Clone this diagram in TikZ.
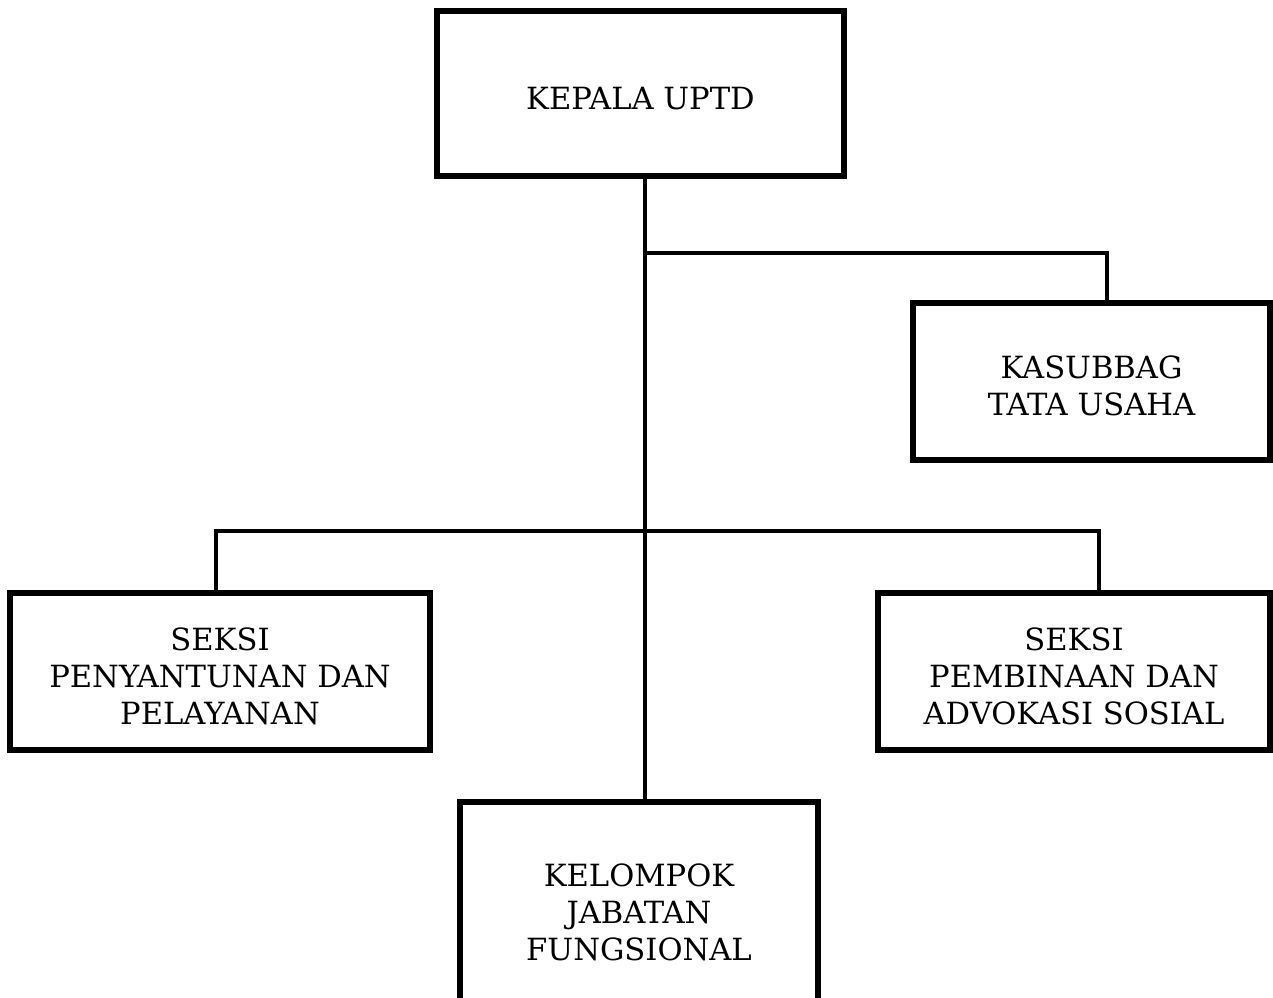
\documentclass[tikz,border=0pt]{standalone}
\usepackage{fontspec}
\setmainfont{DejaVu Serif}
% taller first line pushes each label slightly below its box centre
\newcommand{\droplabel}{\rule{0pt}{16pt}}
\begin{document}
\begin{tikzpicture}[x=0.5pt,y=-0.5pt,
  unit/.style={draw, line width=3pt, align=center, inner sep=0pt,
    font=\fontsize{15.3}{18.5}\selectfont},
  link/.style={line width=2pt}]
\useasboundingbox (0,0) rectangle (1273,997);
\clip (0,0) rectangle (1273,997);
\fill[white] (0,0) rectangle (1273,997);

% units
\node[unit, minimum width=203.5pt, minimum height=82.5pt] (kepala) at (640.5,93.5) {\droplabel KEPALA UPTD};
\node[unit, minimum width=178.5pt, minimum height=78.5pt] (tu) at (1091.5,381.5) {\droplabel KASUBBAG\\TATA USAHA};
\node[unit, minimum width=210pt, minimum height=78.5pt] (pelayanan) at (220,671.5) {\droplabel SEKSI\\PENYANTUNAN DAN\\PELAYANAN};
\node[unit, minimum width=196pt, minimum height=78.5pt] (advokasi) at (1074,671.5) {\droplabel SEKSI\\PEMBINAAN DAN\\ADVOKASI SOSIAL};
\node[unit, minimum width=179pt, minimum height=110pt] (fungsional) at (639,912) {KELOMPOK\\JABATAN\\FUNGSIONAL};

% junctions on the trunk and branch corners
\coordinate (j1) at (645,253);
\coordinate (j2) at (645,531);
\coordinate (c1) at (1107,253);
\coordinate (c2) at (216,531);
\coordinate (c3) at (1099,531);

% connectors
\draw[link] (kepala.south -| j1) -- (fungsional.north -| j1);
\draw[link] (j1) -- (c1) -- (c1 |- tu.north);
\draw[link] (c2 |- pelayanan.north) -- (c2) -- (c3) -- (c3 |- advokasi.north);
\end{tikzpicture}
\end{document}
